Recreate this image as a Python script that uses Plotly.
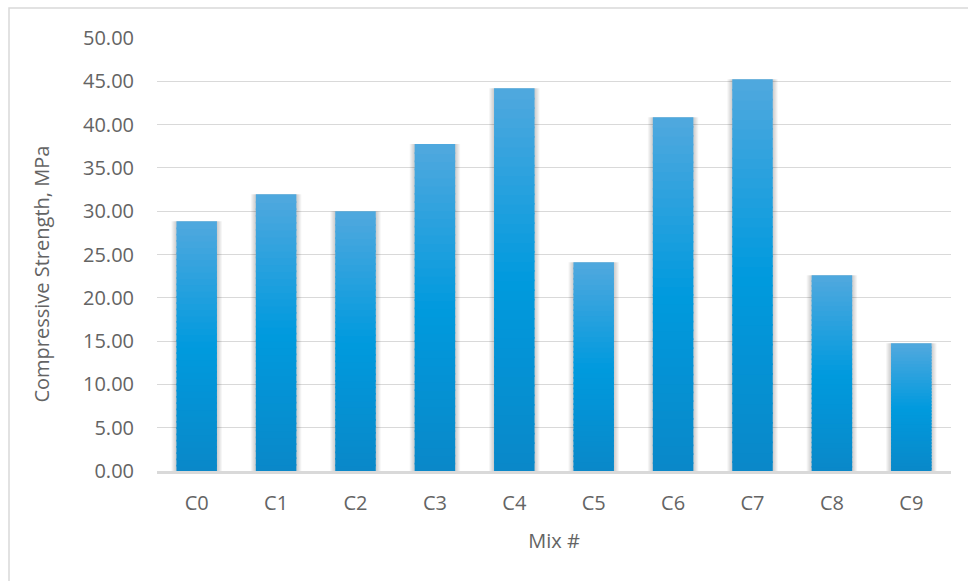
import plotly.graph_objects as go

# Compressive strength per mix
mixes = ["C0", "C1", "C2", "C3", "C4", "C5", "C6", "C7", "C8", "C9"]
strength_mpa = [28.85, 31.95, 30.0, 37.75, 44.2, 24.1, 40.85, 45.25, 22.6, 14.75]

y_ticks = [0, 5, 10, 15, 20, 25, 30, 35, 40, 45, 50]
y_tick_text = [f"{v:.2f}" for v in y_ticks]

# vertical fill gradient for each bar: bottom -> middle -> top
grad_stops = [(0.0, (10, 136, 200)), (0.5, (0, 154, 222)), (1.0, (80, 168, 222))]
N_STEPS = 40
OVERLAP = 0.2  # data units each slice reaches below its nominal base, hides seams
BAR_WIDTH = 0.51
FONT = "Open Sans, Noto Sans, sans-serif"
TEXT_GRAY = "#646464"
GRID_GRAY = "#d9d9d9"


def grad_color(t):
    for (t0, c0), (t1, c1) in zip(grad_stops[:-1], grad_stops[1:]):
        if t <= t1:
            f = (t - t0) / (t1 - t0)
            r, g, b = (round(a + (bb - a) * f) for a, bb in zip(c0, c1))
            return f"rgb({r},{g},{b})"
    r, g, b = grad_stops[-1][1]
    return f"rgb({r},{g},{b})"


fig = go.Figure()

# soft drop shadow: slightly wider translucent bars underneath
for d in range(1, 6):
    fig.add_trace(go.Bar(
        x=mixes, y=strength_mpa, width=BAR_WIDTH + 2 * d / 79.4,
        marker=dict(color="rgba(0,0,0,0.04)", line=dict(width=0)),
        hoverinfo="skip", showlegend=False,
    ))

# gradient bars built from stacked slices of each value
for k in range(N_STEPS):
    lows = [max(0.0, v * k / N_STEPS - OVERLAP) for v in strength_mpa]
    highs = [v * (k + 1) / N_STEPS for v in strength_mpa]
    fig.add_trace(go.Bar(
        x=mixes,
        y=[h - lo for h, lo in zip(highs, lows)],
        base=lows,
        width=BAR_WIDTH,
        marker=dict(color=grad_color((k + 0.5) / N_STEPS), line=dict(width=0)),
        hoverinfo="skip", showlegend=False,
    ))

fig.update_layout(
    width=968, height=581,
    margin=dict(l=157, r=17, t=38, b=110),
    paper_bgcolor="white", plot_bgcolor="white",
    barmode="overlay",
    font=dict(family=FONT, size=20, color=TEXT_GRAY),
    xaxis=dict(
        type="category", categoryorder="array", categoryarray=mixes,
        showgrid=False, showline=True, linecolor=GRID_GRAY, linewidth=2.5,
        ticks="", ticklabelstandoff=12,
        tickfont=dict(family=FONT, size=20, color=TEXT_GRAY),
        title=dict(text="Mix #", font=dict(family=FONT, size=20, color=TEXT_GRAY), standoff=20),
    ),
    yaxis=dict(
        range=[0, 50], tickvals=y_ticks, ticktext=y_tick_text,
        showgrid=True, gridcolor=GRID_GRAY, gridwidth=1.2,
        zeroline=False, showline=False, ticks="", ticklabelstandoff=22,
        tickfont=dict(family=FONT, size=20, color=TEXT_GRAY),
    ),
    annotations=[dict(
        text="Compressive Strength, MPa", textangle=-90,
        xref="paper", yref="paper", x=(42 - 157) / 794, y=0.456,
        xanchor="center", yanchor="middle", showarrow=False,
        font=dict(family=FONT, size=20, color=TEXT_GRAY),
    )],
    shapes=[dict(
        type="rect", xref="paper", yref="paper",
        x0=(9 - 157) / 794, x1=(990 - 157) / 794,
        y0=(470 - 600) / 432, y1=1 + (38 - 8) / 432,
        line=dict(color=GRID_GRAY, width=1.5), fillcolor="rgba(0,0,0,0)",
        layer="below",
    )],
)

fig.write_html("out.html")
